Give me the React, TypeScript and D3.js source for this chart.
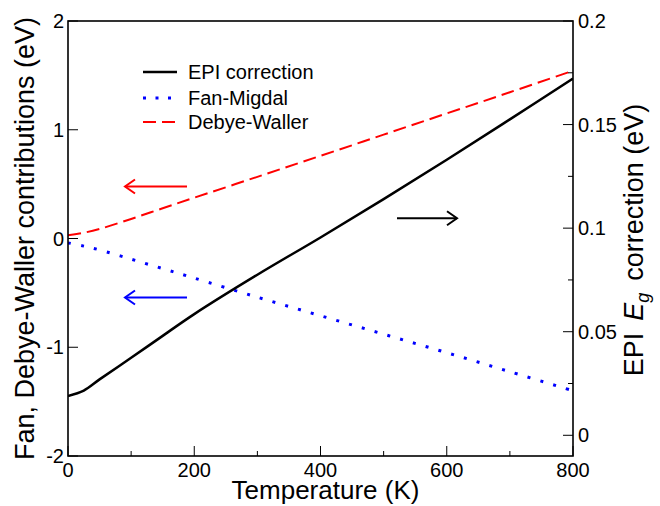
import React from "react";
import * as d3 from "d3";

const temps = [0, 25, 50, 100, 150, 200, 300, 400, 500, 600, 700, 800];
const epiCorrection = [0.019, 0.0216, 0.027, 0.0374, 0.048, 0.0585, 0.0775, 0.0955, 0.114, 0.133, 0.1525, 0.1722];
const fanMigdal = [-0.04, -0.07, -0.105, -0.19, -0.277, -0.364, -0.54, -0.71, -0.88, -1.05, -1.225, -1.4];
const debyeWaller = [0.03, 0.053, 0.088, 0.18, 0.278, 0.375, 0.567, 0.76, 0.955, 1.15, 1.345, 1.543];

const xTicks = [0, 200, 400, 600, 800];
const xMinor = [100, 300, 500, 700];
const leftTicks = [-2, -1, 0, 1, 2];
const rightTicks = [0, 0.05, 0.1, 0.15, 0.2];
const rightTickLabels = ["0", "0.05", "0.1", "0.15", "0.2"];
const rightMinor = [0.025, 0.075, 0.125, 0.175];
const legendLabels = ["EPI correction", "Fan-Migdal", "Debye-Waller"];

const W = 660, H = 506;
const L = 68, R = 573, T = 21, B = 456;
const FONT = "'Liberation Sans', Arial, Helvetica, sans-serif";

export default function App() {
  const x = d3.scaleLinear().domain([0, 800]).range([L, R]);
  const yL = d3.scaleLinear().domain([-2, 2]).range([B, T]);
  const yR = d3.scaleLinear().domain([-0.01, 0.2]).range([B, T]);

  const lineL = d3.line<number>().x((_, i) => x(temps[i])).y((d) => yL(d)).curve(d3.curveCatmullRom.alpha(0.5));
  const lineR = d3.line<number>().x((_, i) => x(temps[i])).y((d) => yR(d)).curve(d3.curveCatmullRom.alpha(0.5));

  const arrow = (x1: number, x2: number, y: number, color: string) => {
    const dir = x2 > x1 ? 1 : -1;
    const hx = x2 - dir * 10;
    return (
      <g stroke={color} strokeWidth={2} fill="none">
        <line x1={x1} y1={y} x2={x2} y2={y} />
        <polyline points={`${hx},${y - 7} ${x2},${y} ${hx},${y + 7}`} />
      </g>
    );
  };

  const legendY = [72, 98, 122];
  const styles = [
    { stroke: "#000", width: 2.5, dash: undefined as string | undefined },
    { stroke: "#0000ff", width: 3, dash: "3 9.5" },
    { stroke: "#ff0000", width: 2, dash: "13 6" },
  ];

  return (
    <div style={{ position: "absolute", left: 0, top: 0 }}>
      <svg width={W} height={H} style={{ display: "block", background: "#fff" }} fontFamily={FONT}>
        <rect x={0} y={0} width={W} height={H} fill="#fff" />
        <defs>
          <clipPath id="plot">
            <rect x={L} y={T} width={R - L} height={B - T} />
          </clipPath>
        </defs>

        {/* curves */}
        <g clipPath="url(#plot)" fill="none">
          <path d={lineL(debyeWaller) || ""} stroke="#ff0000" strokeWidth={2} strokeDasharray="13 6" />
          <path d={lineL(fanMigdal) || ""} stroke="#0000ff" strokeWidth={3} strokeDasharray="3 10.3" />
          <path d={lineR(epiCorrection) || ""} stroke="#000" strokeWidth={2.5} />
        </g>

        {/* arrows */}
        {arrow(187, 125, 186.5, "#ff0000")}
        {arrow(187, 125, 297.5, "#0000ff")}
        {arrow(397, 457, 218.3, "#000")}

        {/* frame */}
        <rect x={L} y={T} width={R - L} height={B - T} fill="none" stroke="#000" strokeWidth={1.6} />

        {/* x ticks */}
        {xTicks.map((t) => (
          <g key={"x" + t}>
            <line x1={x(t)} x2={x(t)} y1={B} y2={B - 10} stroke="#000" strokeWidth={1} />
            <text x={x(t)} y={477} textAnchor="middle" fontSize={20}>{t}</text>
          </g>
        ))}
        {xMinor.map((t) => (
          <line key={"xm" + t} x1={x(t)} x2={x(t)} y1={B} y2={B - 5} stroke="#000" strokeWidth={1} />
        ))}

        {/* left ticks */}
        {leftTicks.map((t) => (
          <g key={"l" + t}>
            <line x1={L} x2={L + 10} y1={yL(t)} y2={yL(t)} stroke="#000" strokeWidth={1} />
            <text x={64} y={yL(t) + 7} textAnchor="end" fontSize={20}>{t}</text>
          </g>
        ))}

        {/* right ticks */}
        {rightTicks.map((t, i) => (
          <g key={"r" + t}>
            <line x1={R} x2={R - 10} y1={yR(t)} y2={yR(t)} stroke="#000" strokeWidth={1} />
            <text x={578} y={yR(t) + 7} textAnchor="start" fontSize={20}>{rightTickLabels[i]}</text>
          </g>
        ))}
        {rightMinor.map((t) => (
          <line key={"rm" + t} x1={R} x2={R - 5} y1={yR(t)} y2={yR(t)} stroke="#000" strokeWidth={1} />
        ))}

        {/* legend */}
        {legendLabels.map((lab, i) => (
          <g key={lab}>
            <line x1={143} x2={177} y1={legendY[i]} y2={legendY[i]} stroke={styles[i].stroke}
              strokeWidth={styles[i].width} strokeDasharray={styles[i].dash} />
            <text x={188} y={legendY[i] + 7} fontSize={20}>{lab}</text>
          </g>
        ))}

        {/* axis labels */}
        <text x={(L + R) / 2 + 5} y={499} textAnchor="middle" fontSize={26}>Temperature (K)</text>
        <text transform={`translate(34,${(T + B) / 2}) rotate(-90)`} textAnchor="middle" fontSize={27}>
          Fan, Debye-Waller contributions (eV)
        </text>
        <text transform={`translate(643,240) rotate(-90)`} textAnchor="middle" fontSize={27}>
          <tspan>EPI</tspan>
          <tspan dx={12} fontStyle="italic">E</tspan>
          <tspan fontStyle="italic" fontSize={18} dy={6}>g</tspan>
          <tspan dy={-6} dx={12}>correction (eV)</tspan>
        </text>
      </svg>
    </div>
  );
}
